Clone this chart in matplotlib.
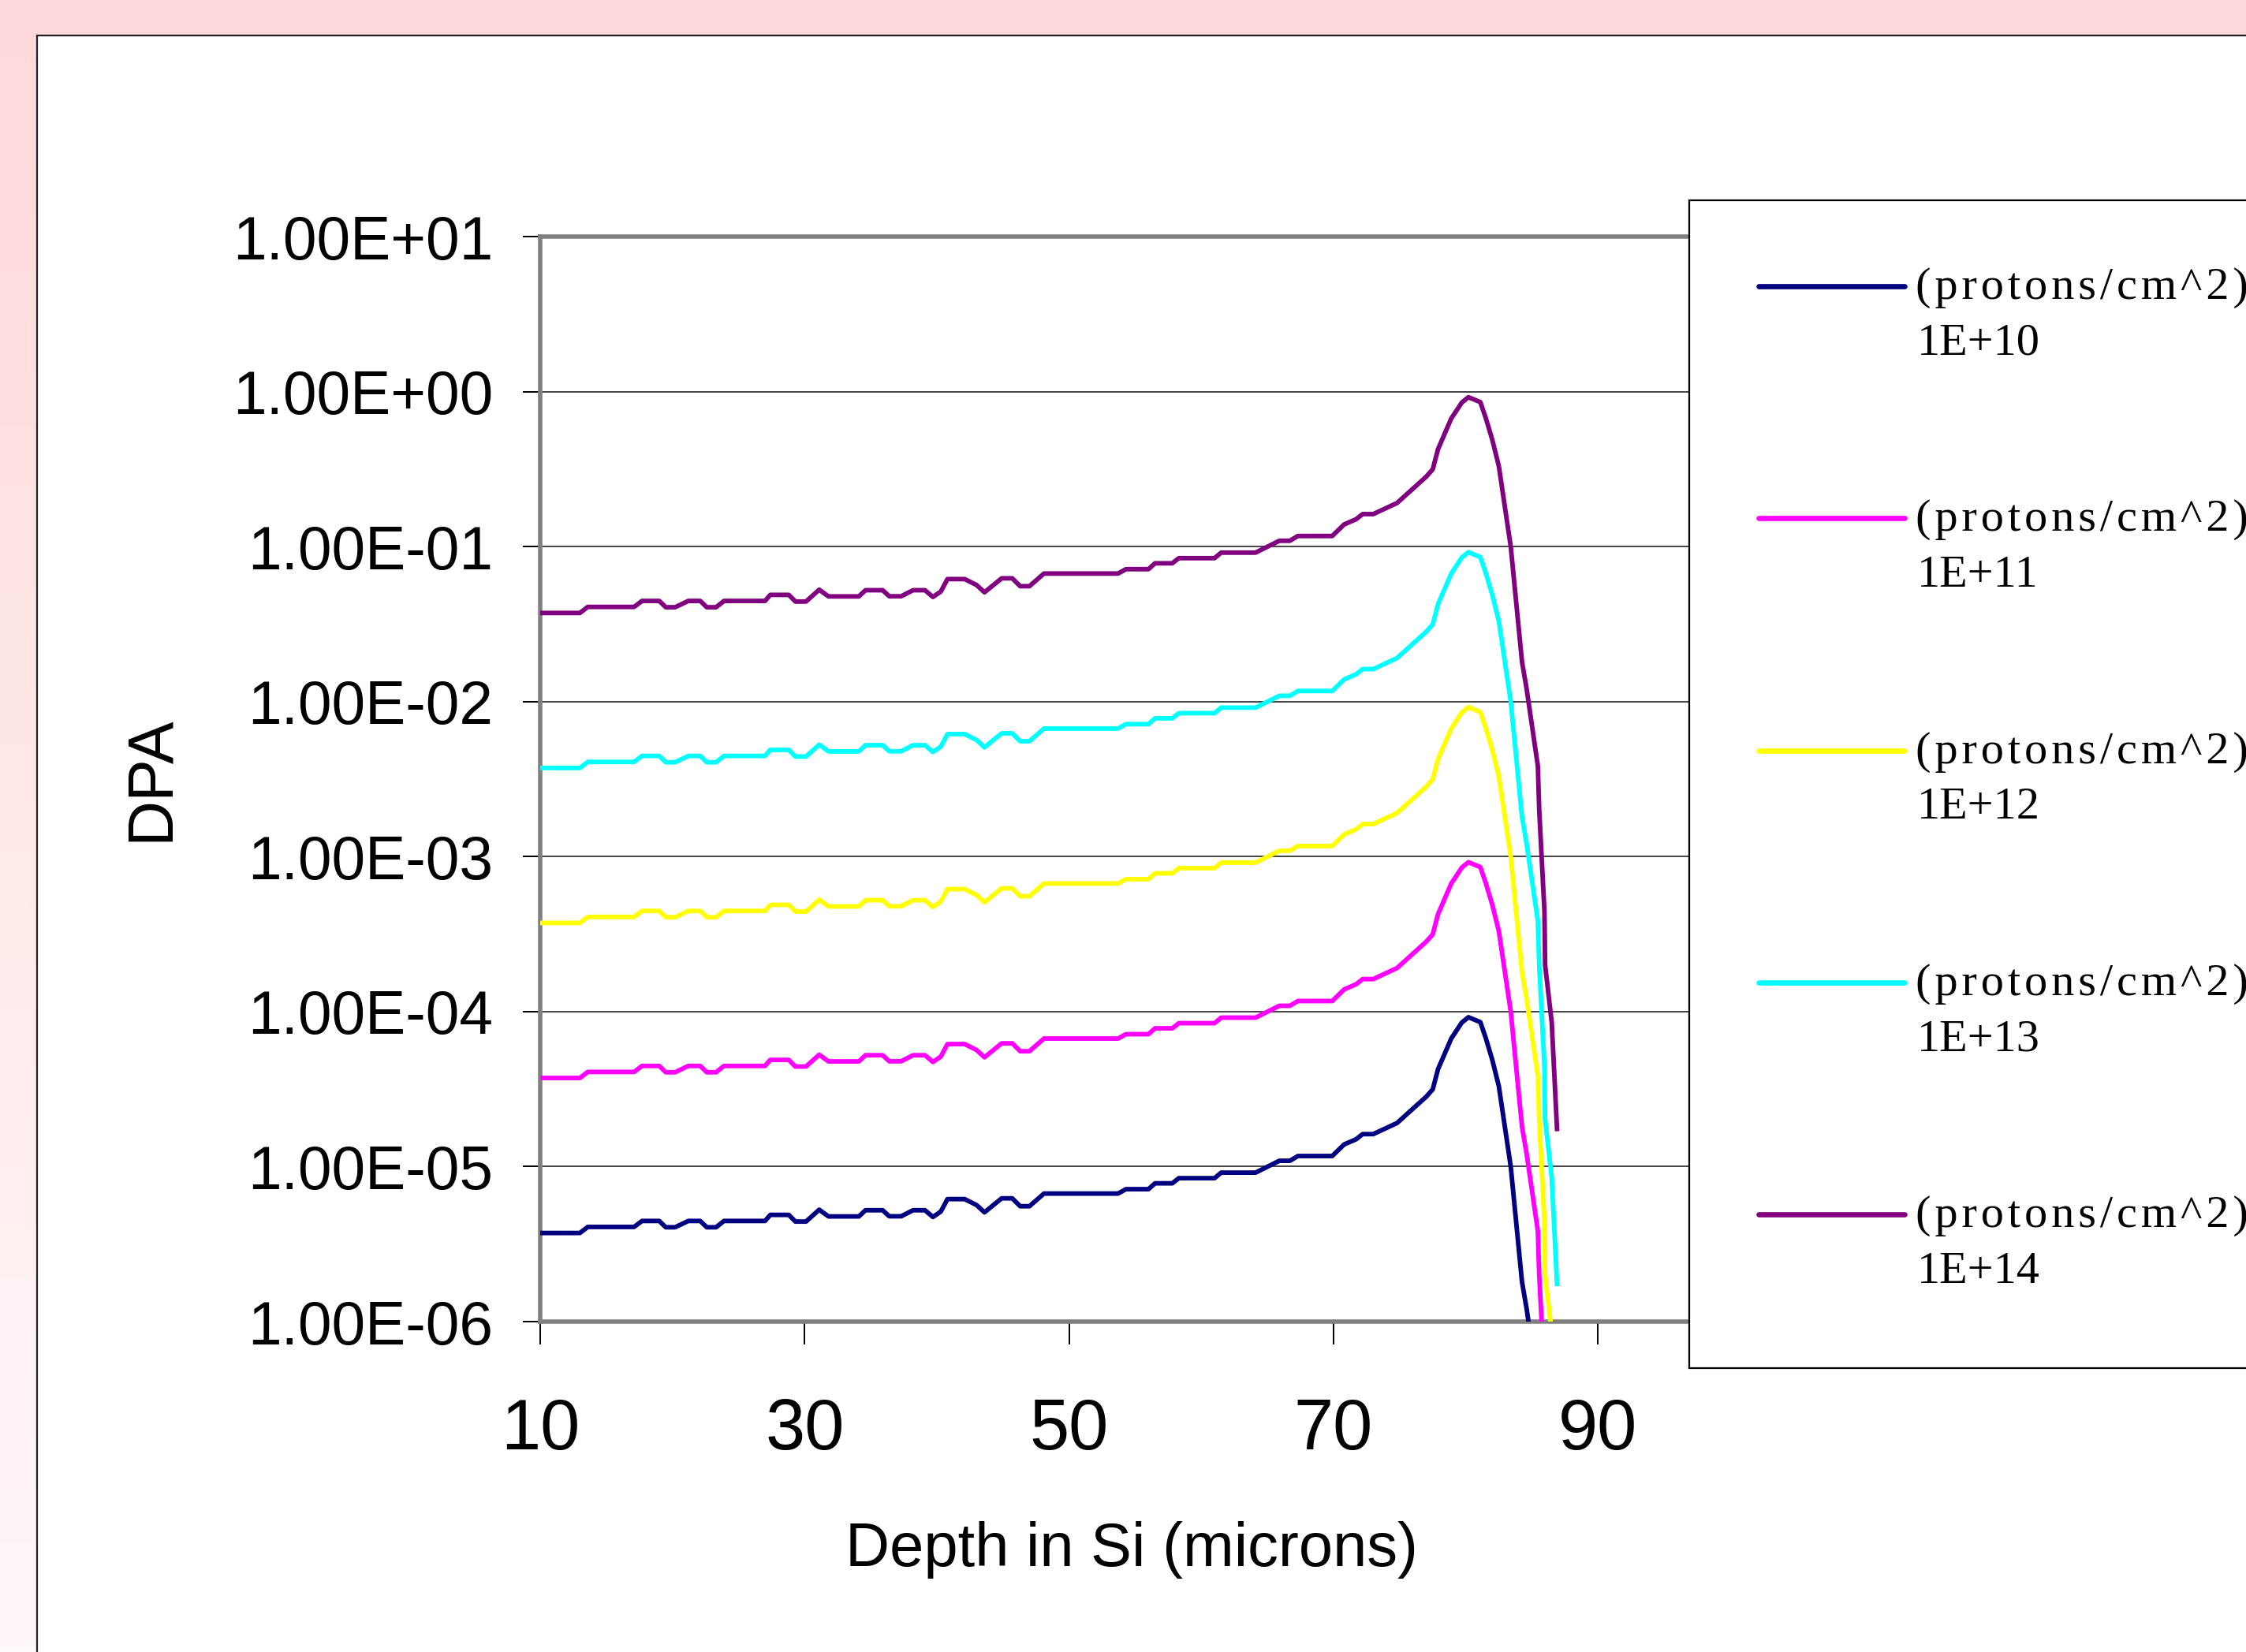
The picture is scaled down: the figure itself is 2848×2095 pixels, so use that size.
import numpy as np
import matplotlib
matplotlib.use("Agg")
from matplotlib import pyplot as plt
from matplotlib.patches import Rectangle
from matplotlib.lines import Line2D
from matplotlib.ticker import FixedLocator, FuncFormatter

plt.rcParams['font.family'] = ['Liberation Sans', 'DejaVu Sans']

# depth in Si (microns)
depth = [10.0, 13.0, 13.6, 17.1, 17.7, 19.0, 19.5, 20.2, 21.2, 22.1, 22.6, 23.3, 23.9,
         27.0, 27.4, 28.8, 29.3, 30.1, 31.1, 31.8, 34.1, 34.6, 35.9, 36.4, 37.3, 38.2,
         39.1, 39.7, 40.3, 40.8, 42.1, 43.0, 43.6, 44.9, 45.7, 46.3, 47.0, 48.1, 53.7,
         54.3, 56.0, 56.5, 57.8, 58.3, 61.0, 61.5, 64.1, 65.9, 66.7, 67.3, 69.9, 70.8,
         71.7, 72.2, 73.0, 74.8, 77.0, 77.5, 77.9, 78.9, 79.7, 80.2, 81.1, 81.5, 82.0,
         82.5, 83.4, 84.25, 84.6, 85.45, 85.55, 85.95, 86.0, 86.5, 86.9]

# DPA for a fluence of 1E+10 protons/cm^2 (units of 1e-6)
dpa_1e10 = [3.73, 3.73, 4.08, 4.08, 4.46, 4.46, 4.06, 4.06, 4.46, 4.46, 4.06, 4.06, 4.46,
            4.46, 4.88, 4.88, 4.42, 4.42, 5.27, 4.77, 4.77, 5.23, 5.23, 4.78, 4.78, 5.23,
            5.23, 4.73, 5.13, 6.17, 6.17, 5.65, 5.07, 6.24, 6.24, 5.55, 5.55, 6.70, 6.70,
            7.15, 7.15, 7.80, 7.80, 8.42, 8.42, 9.14, 9.14, 10.9, 10.9, 11.7, 11.7, 13.9,
            15.0, 16.2, 16.2, 19.1, 28.2, 31.5, 42.5, 67.0, 85.0, 92.0, 85.5, 68.0, 49.0,
            33.0, 10.0, 1.81, 1.21, 0.384, 0.202, 0.044, 0.020, 0.0085, 0.00175]

# fluences (protons/cm^2), dpa scales linearly with fluence
fluences = [1e10, 1e11, 1e12, 1e13, 1e14]
fluence_labels = ["1E+10", "1E+11", "1E+12", "1E+13", "1E+14"]
colors = ["#000080", "#FF00FF", "#FFFF00", "#00FFFF", "#800080"]

y_ticks = [1e-6, 1e-5, 1e-4, 1e-3, 1e-2, 1e-1, 1e0, 1e1]
x_ticks = [10, 30, 50, 70, 90]

W, H = 2848, 2095
DPI = 200
fig = plt.figure(figsize=(W / DPI, H / DPI), dpi=DPI)

# pink slide background
bg = fig.add_axes([0, 0, 1, 1], zorder=-10)
grad = np.linspace(0, 1, 256).reshape(-1, 1)
top_c = np.array([255, 217, 217]) / 255.0
bot_c = np.array([255, 248, 248]) / 255.0
img = top_c[None, None, :] * (1 - grad[:, :, None]) + bot_c[None, None, :] * grad[:, :, None]
bg.imshow(img, aspect='auto', extent=[0, 1, 0, 1])
bg.axis('off')

# white chart panel
fig.add_artist(Rectangle((47 / W, -0.02), 1.05, 1 - 45 / H + 0.02, transform=fig.transFigure,
                         facecolor='white', edgecolor='#222222', lw=0.8, zorder=-5))

ax = fig.add_axes([685 / W, 1 - 1676 / H, (2194 - 685) / W, (1676 - 300) / H])
ax.set_facecolor('white')

base = np.array(dpa_1e10) * 1e-6
for fl, c in zip(fluences, colors):
    ax.plot(depth, base * fl / 1e10, color=c, lw=2.1, solid_joinstyle='round', zorder=3)

ax.set_yscale('log')
ax.set_ylim(1e-6, 1e1)
ax.set_xlim(10, 100)
ax.yaxis.set_major_locator(FixedLocator(y_ticks))
ax.yaxis.set_minor_locator(FixedLocator([]))
ax.yaxis.set_major_formatter(FuncFormatter(lambda v, p: f"{v:.2E}"))
ax.xaxis.set_major_locator(FixedLocator(x_ticks))
ax.grid(axis='y', color='#222222', lw=0.6)
ax.set_axisbelow(True)

ax.tick_params(axis='y', direction='out', length=7.9, width=0.7, pad=13.7, labelsize=27.6)
ax.tick_params(axis='x', direction='out', length=10.4, width=0.7, pad=24, labelsize=32.5)
for s in ax.spines.values():
    s.set_color('#808080')
    s.set_linewidth(2.0)

fig.text(0.0675, 0.529, "DPA", rotation=90, ha='center', va='center', fontsize=29)
fig.text(0.504, 1 - 1986 / H, "Depth in Si (microns)", ha='center', va='baseline', fontsize=28)

# legend box (runs off the right edge like the original)
fig.add_artist(Rectangle((2142 / W, 1 - 1735 / H), 0.3, (1735 - 254) / H, transform=fig.transFigure,
                         facecolor='white', edgecolor='black', lw=0.8, zorder=5))
unit = "\u200a".join("(protons/cm^2)")
for i, (lab, c) in enumerate(zip(fluence_labels, colors)):
    yl = 363 + i * 294.25
    fig.add_artist(Line2D([2230 / W, 2415 / W], [1 - yl / H, 1 - yl / H], transform=fig.transFigure,
                          color=c, lw=2.4, solid_capstyle='round', zorder=6))
    fig.text(2429 / W, 1 - (yl + 16) / H, unit, ha='left', va='baseline', fontsize=21,
             family=['Liberation Serif', 'DejaVu Serif'], zorder=6)
    fig.text(2431 / W, 1 - (yl + 87) / H, lab, ha='left', va='baseline', fontsize=21,
             family=['Liberation Serif', 'DejaVu Serif'], zorder=6)

fig.savefig("out.png", dpi=DPI)
